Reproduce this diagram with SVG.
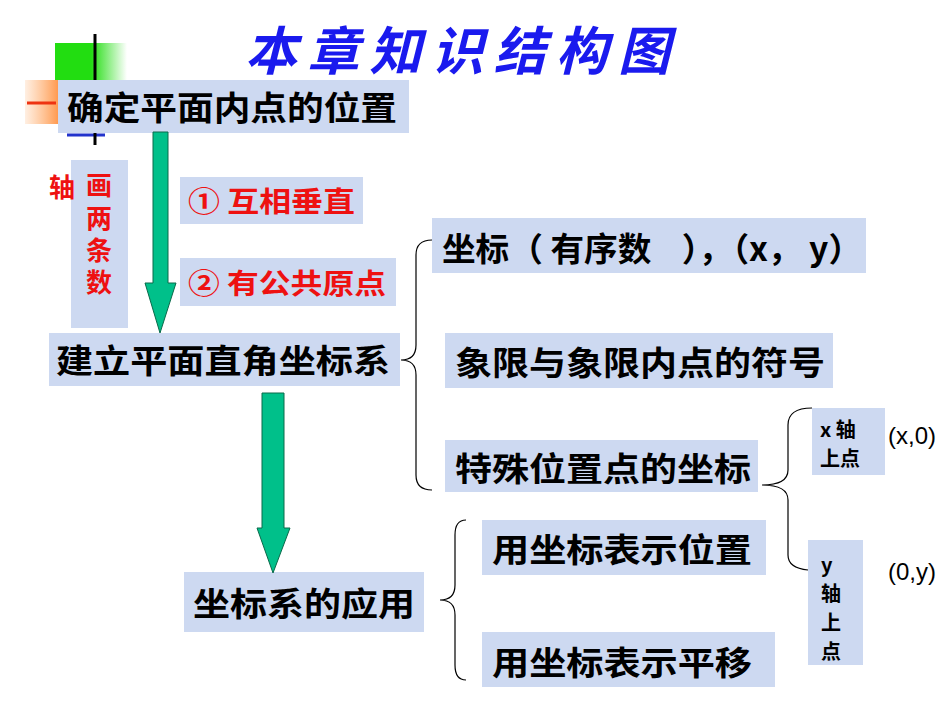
<svg xmlns="http://www.w3.org/2000/svg" width="950" height="713" viewBox="0 0 950 713">
<style>
.box{fill:#cdd9f1}
.t{font-family:"Noto Sans CJK SC","Liberation Sans",sans-serif;font-weight:bold;fill:#000}
.r{fill:#ee1111}
.br{fill:none;stroke:#000;stroke-width:1.2}
.ar{fill:#00c08a;stroke:#0a6a4a;stroke-width:1}
</style>
<defs>
<linearGradient id="g" x1="0" x2="1"><stop offset="0.5" stop-color="#22dd11"/><stop offset="1" stop-color="#22dd11" stop-opacity="0"/></linearGradient>
<linearGradient id="o" x1="0" x2="1"><stop offset="0" stop-color="#ffb070" stop-opacity="0.2"/><stop offset="1" stop-color="#ff9a50"/></linearGradient>
</defs>
<rect width="950" height="713" fill="#fff"/>
<g id="deco">
<rect x="55" y="43" width="72" height="37" fill="url(#g)"/>
<rect x="25" y="80" width="33" height="44" fill="url(#o)"/>
<line x1="27" y1="103" x2="56" y2="103" stroke="#ee3311" stroke-width="3"/>
<line x1="67" y1="135" x2="105" y2="135" stroke="#2233cc" stroke-width="3"/>
<line x1="95" y1="34" x2="95" y2="145" stroke="#000" stroke-width="3"/>
</g>
<text x="245" y="70" textLength="425" font-family="'Noto Sans CJK SC',sans-serif" font-size="52" font-style="italic" font-weight="bold" fill="#1a1aee">本章知识结构图</text>
<g id="n1"><rect class="box" x="58" y="80" width="351" height="53"/><text class="t" x="67" y="120" font-size="33" textLength="330" lengthAdjust="spacingAndGlyphs">确定平面内点的位置</text></g>
<g id="n2"><rect class="box" x="71" y="160" width="57" height="168"/>
<text class="t r" font-size="26" x="86" y="195">画</text>
<text class="t r" font-size="26" x="86" y="228">两</text>
<text class="t r" font-size="26" x="86" y="260">条</text>
<text class="t r" font-size="26" x="86" y="292">数</text>
<text class="t r" font-size="26" x="49" y="197">轴</text></g>
<g id="n3"><rect class="box" x="180" y="177" width="183" height="47"/><text class="t r" x="188" y="212" font-size="28" textLength="167" lengthAdjust="spacingAndGlyphs">① 互相垂直</text></g>
<g id="n4"><rect class="box" x="180" y="258" width="216" height="48"/><text class="t r" x="188" y="294" font-size="28" textLength="198" lengthAdjust="spacingAndGlyphs">② 有公共原点</text></g>
<g id="n5"><rect class="box" x="49" y="333" width="351" height="53"/><text class="t" x="56" y="373" font-size="33" textLength="334" lengthAdjust="spacingAndGlyphs">建立平面直角坐标系</text></g>
<g id="n6"><rect class="box" x="432" y="218" width="434" height="55"/><text class="t" x="442" y="261" font-size="33" textLength="420" lengthAdjust="spacingAndGlyphs" xml:space="preserve">坐标（ 有序数    ），（x， y）</text></g>
<g id="n7"><rect class="box" x="445" y="333" width="388" height="55"/><text class="t" x="455" y="375" font-size="33" textLength="370" lengthAdjust="spacingAndGlyphs">象限与象限内点的符号</text></g>
<g id="n8"><rect class="box" x="445" y="440" width="313" height="52"/><text class="t" x="455" y="481" font-size="33" textLength="296" lengthAdjust="spacingAndGlyphs">特殊位置点的坐标</text></g>
<g id="n9"><rect class="box" x="812" y="408" width="73" height="67"/><text class="t" font-size="20"><tspan x="820" y="437">x 轴</tspan><tspan x="820" y="466">上点</tspan></text><text x="888" y="444" font-family="'Liberation Sans',sans-serif" font-size="24">(x,0)</text></g>
<g id="n10"><rect class="box" x="808" y="540" width="55" height="125"/><text class="t" font-size="20"><tspan x="821" y="572">y</tspan><tspan x="821" y="601">轴</tspan><tspan x="821" y="630">上</tspan><tspan x="821" y="659">点</tspan></text><text x="888" y="580" font-family="'Liberation Sans',sans-serif" font-size="24">(0,y)</text></g>
<g id="n11"><rect class="box" x="184" y="572" width="240" height="60"/><text class="t" x="193" y="616" font-size="33" textLength="222" lengthAdjust="spacingAndGlyphs">坐标系的应用</text></g>
<g id="n12"><rect class="box" x="482" y="520" width="284" height="55"/><text class="t" x="492" y="562" font-size="33" textLength="260" lengthAdjust="spacingAndGlyphs">用坐标表示位置</text></g>
<g id="n13"><rect class="box" x="482" y="632" width="293" height="55"/><text class="t" x="492" y="675" font-size="33" textLength="260" lengthAdjust="spacingAndGlyphs">用坐标表示平移</text></g>
<g id="connectors">
<polygon class="ar" points="153,132 168,132 168,283 176,283 160,333 145,283 153,283"/>
<polygon class="ar" points="262,393 284,393 284,528 290,528 273,573 257,528 262,528"/>
<path class="br" d="M432,240 Q416,240 416,255 L416,345 Q416,360 401,360 Q416,360 416,375 L416,475 Q416,490 432,490"/>
<path class="br" d="M812,408 Q788,408 788,425 L788,470 Q788,485 762,485 Q788,485 788,500 L788,555 Q788,568 808,570"/>
<path class="br" d="M466,520 Q455,520 455,535 L455,585 Q455,600 440,600 Q455,600 455,615 L455,665 Q455,680 466,680"/>
</g>
</svg>
